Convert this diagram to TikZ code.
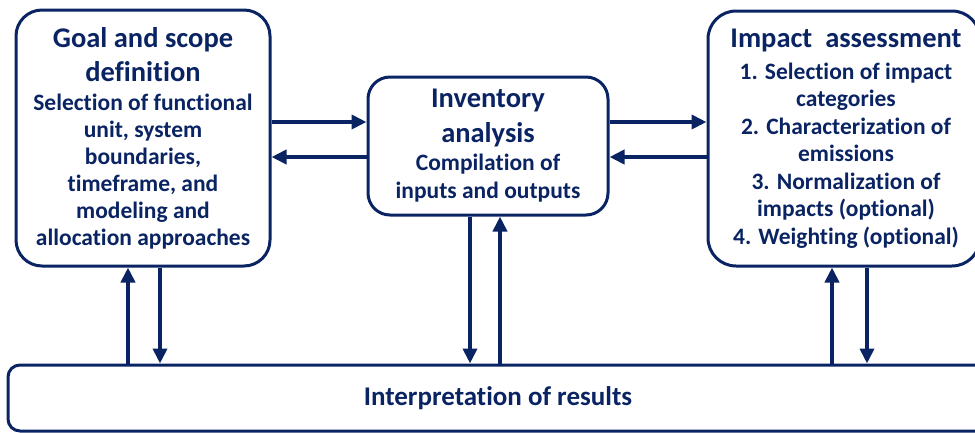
\documentclass[tikz,border=0pt]{standalone}
\usepackage{fontspec}
\setmainfont{Carlito}[Ligatures={NoCommon}]
\usetikzlibrary{arrows.meta}
\definecolor{navy}{RGB}{10,36,99}
\tikzset{
  stage/.style={draw=navy, line width=3pt, rounded corners=#1, fill=white,
    text=navy, align=center, inner sep=0pt,
    font=\bfseries\fontsize{23.5}{27}\selectfont},
  flow/.style={draw=navy, line width=4pt,
    -{Triangle[length=15pt,width=14pt]}},
}
\newcommand{\ttl}[1]{{\fontsize{28.5}{34}\selectfont #1}}
\begin{document}
\begin{tikzpicture}[x=1pt,y=-1pt]
\useasboundingbox (0,0) rectangle (975,432);
\clip (0,0) rectangle (975,432);

% the four stages
\node[stage=26pt, minimum width=254pt, minimum height=256pt] (goal) at (143,138)
  {\ttl{Goal and scope}\\[7pt]\ttl{definition}\\[2pt]
   Selection of functional\\unit, system\\boundaries,\\timeframe, and\\modeling and\\allocation approaches};
\node[stage=22pt, minimum width=240pt, minimum height=138pt,
  font=\bfseries\fontsize{23.5}{28}\selectfont] (inv) at (488,146)
  {\ttl{Inventory}\\[7pt]\ttl{analysis}\\[0pt]
   Compilation of\\inputs and outputs};
\node[stage=28pt, minimum width=272pt, minimum height=255pt,
  font=\bfseries\fontsize{23.5}{27.5}\selectfont] (imp) at (844,138.5)
  {\hspace*{4pt}\ttl{Impact\ \ assessment}\\[4pt]
   \hspace*{4pt}1. Selection of impact\\\hspace*{4pt}categories\\
   \hspace*{4pt}2. Characterization of\\\hspace*{4pt}emissions\\
   \hspace*{4pt}3. Normalization of\\\hspace*{4pt}impacts (optional)\\
   \hspace*{4pt}4. Weighting (optional)};
\node[stage=12pt, minimum width=980pt, minimum height=66pt,
  font=\bfseries\fontsize{27}{32}\selectfont] (res) at (498,398)
  {Interpretation of results};

% horizontal exchanges
\draw[flow] (goal.east |- 0,122) -- (inv.west |- 0,122);
\draw[flow] (inv.west |- 0,157) -- (goal.east |- 0,157);
\draw[flow] (inv.east |- 0,122) -- (imp.west |- 0,122);
\draw[flow] (imp.west |- 0,157) -- (inv.east |- 0,157);

% links with the interpretation phase
\draw[flow] (res.north -| 128,0) -- (goal.south -| 128,0);
\draw[flow] (goal.south -| 160,0) -- (res.north -| 160,0);
\draw[flow] (inv.south -| 470,0) -- (res.north -| 470,0);
\draw[flow] (res.north -| 500,0) -- (inv.south -| 500,0);
\draw[flow] (res.north -| 832,0) -- (imp.south -| 832,0);
\draw[flow] (imp.south -| 867,0) -- (res.north -| 867,0);
\end{tikzpicture}
\end{document}
